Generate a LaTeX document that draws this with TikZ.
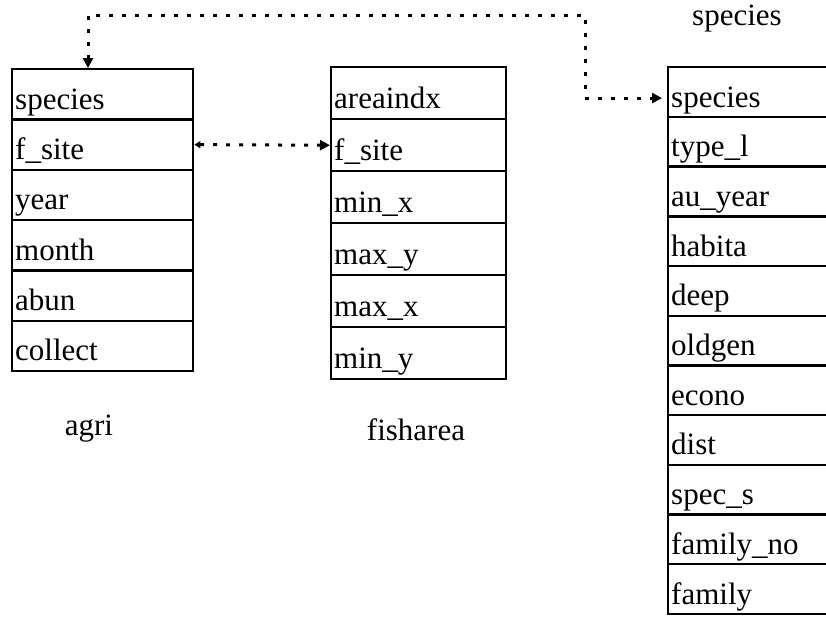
\documentclass[tikz,border=0pt]{standalone}
\usepackage{fontspec}
\setmainfont{Liberation Serif}
\usetikzlibrary{arrows.meta}
\begin{document}
\begin{tikzpicture}
[x=0.5pt,y=-0.5pt,
  fielddecorate/.style={shape=rectangle,draw,line width=1.2pt,anchor=north west,
    inner xsep=1.5pt,inner ysep=0pt,align=left,text height=15pt,text depth=0pt,
    font=\fontsize{15.5}{18}\selectfont},
  titledecorate/.style={anchor=base,font=\fontsize{15.5}{18}\selectfont},
  linkdecorate/.style={line width=1.5pt,dash pattern=on 2pt off 4.5pt}]
\useasboundingbox (0,0) rectangle (826,617);
% tables
\foreach \lbl [count=\i] in {species,f\_site,year,month,abun,collect}
  \node (agri-\i) at (11,{68+(\i-1)*50.3}) [fielddecorate,text width=87.5pt,minimum height=25.15pt] {\lbl};
\foreach \lbl [count=\i] in {areaindx,f\_site,min\_x,max\_y,max\_x,min\_y}
  \node (fish-\i) at (330,{66+(\i-1)*52}) [fielddecorate,text width=84.5pt,minimum height=26pt] {\lbl};
\foreach \lbl [count=\i] in {species,type\_l,au\_year,habita,deep,oldgen,econo,dist,spec\_s,family\_no,family}
  \node (spec-\i) at (667,{66+(\i-1)*49.7}) [fielddecorate,text width=78.5pt,minimum height=24.85pt] {\lbl};
% table names
\node (agri-t) at (89,435) [titledecorate] {agri};
\node (fish-t) at (416,440) [titledecorate] {fisharea};
\node (spec-t) at (737,25) [titledecorate] {species};
% links
\coordinate (c1) at (88,15);
\coordinate (c2) at (585,15);
\draw[linkdecorate,{Triangle[length=5pt,width=5pt]}-{Triangle[length=5pt,width=5pt]},shorten >=2.5pt]
  (agri-1.north -| c1) -- (c1) -- (c2) |- ([yshift=-3pt]spec-1.west);
\draw[linkdecorate,{Triangle[length=3pt,width=3.5pt]}-{Triangle[length=5pt,width=5pt]}]
  (agri-2.east) -- (fish-2.west);
\end{tikzpicture}
\end{document}
